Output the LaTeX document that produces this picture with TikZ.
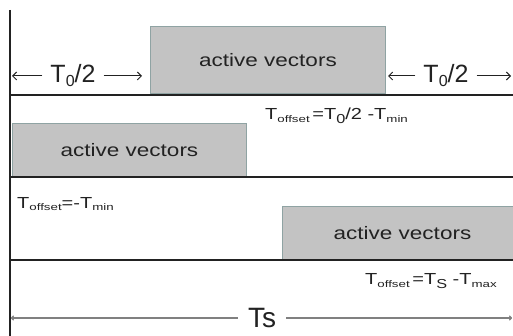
\documentclass[tikz,border=0pt]{standalone}
\usepackage{fontspec}
\setmainfont{Liberation Sans}
\newfontfamily\widefont{Liberation Sans}[FakeStretch=1.25]
\newfontfamily\subfont{Liberation Sans}[FakeStretch=1.4]
\usetikzlibrary{arrows.meta}
\definecolor{boxfill}{HTML}{C3C3C3}
\definecolor{boxedge}{HTML}{8FA3A3}
\definecolor{ink}{HTML}{222222}
\newcommand\lbsub[1]{\raisebox{-2.5pt}{\subfont\fontsize{9.5}{10}\selectfont #1}}
\newcommand\lbsubb[1]{\raisebox{-3.5pt}{\fontsize{13}{13}\selectfont #1}}
\newcommand\lbsubc[1]{\raisebox{-4pt}{\fontsize{16}{16}\selectfont #1}}
\begin{document}
\begin{tikzpicture}[x=1pt,y=-1pt,
  ax/.style={line width=1.4pt,draw=ink},
  vbox/.style={fill=boxfill,draw=boxedge,line width=1pt,anchor=south west,inner sep=0pt,font=\widefont\fontsize{18}{20}\selectfont,text=ink},
  dimtxt/.style={font=\fontsize{25}{28}\selectfont,text=ink,inner sep=8pt},
  offtxt/.style={font=\widefont\fontsize{16}{18}\selectfont,text=ink,anchor=west,inner sep=0pt},
  dimarr/.style={-{Straight Barb[length=4pt,width=8pt]},line width=1pt,draw=ink},
  tsarr/.style={-{To[length=3pt,width=5pt]},line width=1.2pt,draw=gray}]
\useasboundingbox (0,0) rectangle (513,336);
% boxes
\node[vbox,minimum width=235,minimum height=67] (b1) at (150,94) {active vectors};
\node[vbox,minimum width=234,minimum height=53] (b2) at (12,177) {active vectors};
\node[vbox,minimum width=240,minimum height=53] (b3) at (282,260) {active vectors};
% axes
\coordinate (vt) at (10,10);
\coordinate (vb) at (10,336);
\draw[ax] (vt) -- (vb);
\coordinate (h1a) at (10,95); \coordinate (h1b) at (513,95);
\coordinate (h2a) at (10,177); \coordinate (h2b) at (513,177);
\coordinate (h3a) at (10,260); \coordinate (h3b) at (513,260);
\draw[ax] (h1a) -- (h1b);
\draw[ax] (h2a) -- (h2b);
\draw[ax] (h3a) -- (h3b);
% T0/2 left
\node[dimtxt] (tl) at (73,76) {T\lbsubc{0}/2};
\coordinate (tla) at (12,76); \coordinate (tlb) at (142,76);
\draw[dimarr] (tl.west) -- (tla);
\draw[dimarr] (tl.east) -- (tlb);
% T0/2 right
\node[dimtxt] (tr) at (446,76) {T\lbsubc{0}/2};
\coordinate (tra) at (388,76); \coordinate (trb) at (511,76);
\draw[dimarr] (tr.west) -- (tra);
\draw[dimarr] (tr.east) -- (trb);
% offsets
\node[offtxt] (o1) at (265,116) {T\lbsub{offset}\,=T\lbsubb{0}/2 -T\lbsub{min}};
\node[offtxt] (o2) at (17,204) {T\lbsub{offset}=-T\lbsub{min}};
\node[offtxt] (o3) at (365,281) {T\lbsub{offset}\,=T\lbsubb{S} -T\lbsub{max}};
% Ts
\node[font=\fontsize{28}{30}\selectfont,text=ink,inner sep=10pt] (ts) at (262,318) {Ts};
\coordinate (tsa) at (11,318); \coordinate (tsb) at (512,318);
\draw[tsarr] (ts.west) -- (tsa);
\draw[tsarr] (ts.east) -- (tsb);
\end{tikzpicture}
\end{document}
